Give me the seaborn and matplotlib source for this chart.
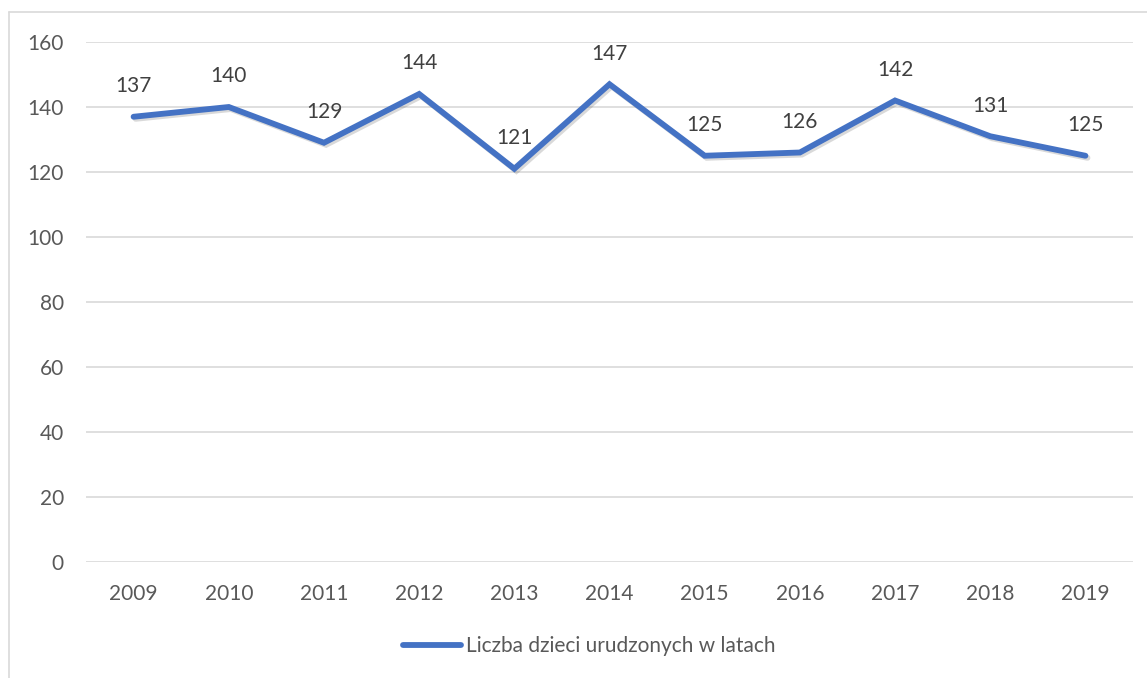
import matplotlib
matplotlib.use("Agg")
import matplotlib.pyplot as plt
import matplotlib.patheffects as pe
from matplotlib.lines import Line2D
import seaborn as sns
import pandas as pd

years = ["2009", "2010", "2011", "2012", "2013", "2014", "2015", "2016", "2017", "2018", "2019"]
births = [137, 140, 129, 144, 121, 147, 125, 126, 142, 131, 125]
series_name = "Liczba dzieci urudzonych w latach"
yticks = [0, 20, 40, 60, 80, 100, 120, 140, 160]

sns.set_theme(style="white")
plt.rcParams['font.family'] = ['Lato', 'DejaVu Sans']

df = pd.DataFrame({"rok": years, "liczba": births})
df["pos"] = range(len(years))

fig = plt.figure(figsize=(11.47, 6.78), dpi=100)
ax = fig.add_axes([86/1147, 1-562/678, (1133-86)/1147, (562-42)/678])

color = "#4472C4"
fs = 15
sns.lineplot(data=df, x="pos", y="liczba", ax=ax, color=color, linewidth=4.2,
             solid_capstyle="round", solid_joinstyle="miter",
             path_effects=[pe.SimpleLineShadow(offset=(1.5, -1.5), alpha=0.2, shadow_color="#444444"), pe.Normal()])

for x, v in zip(df["pos"], df["liczba"]):
    ax.annotate(str(v), (x, v), xytext=(0, 22), textcoords="offset points",
                ha="center", va="center", fontsize=fs, color="#404040")

ax.set_xlim(-0.5, len(years) - 0.5)
ax.set_ylim(0, 160)
ax.set_yticks(yticks)
ax.set_yticklabels([str(t) for t in yticks])
ax.set_xticks(list(df["pos"]))
ax.set_xticklabels(years)
ax.set_xlabel("")
ax.set_ylabel("")
ax.grid(axis="y", color="#D9D9D9", linewidth=1.2)
ax.set_axisbelow(True)
for s in ax.spines.values():
    s.set_visible(False)
ax.tick_params(axis="both", length=0, labelsize=fs, labelcolor="#595959")
ax.tick_params(axis="y", pad=16)
ax.tick_params(axis="x", pad=16)

handle = Line2D([0], [0], color=color, linewidth=4.2, solid_capstyle="round")
fig.legend([handle], [series_name], loc="center", bbox_to_anchor=(589/1147, 1-646/678),
           frameon=False, fontsize=fs, labelcolor="#595959", handlelength=2.8, handletextpad=0.2)

# outer chart frame
fig.add_artist(Line2D([9/1147, 9/1147], [0, 1-12/678], transform=fig.transFigure, color="#D9D9D9", linewidth=1.2))
fig.add_artist(Line2D([9/1147, 1], [1-12/678, 1-12/678], transform=fig.transFigure, color="#D9D9D9", linewidth=1.2))

fig.savefig("out.png", dpi=100, facecolor="white")
